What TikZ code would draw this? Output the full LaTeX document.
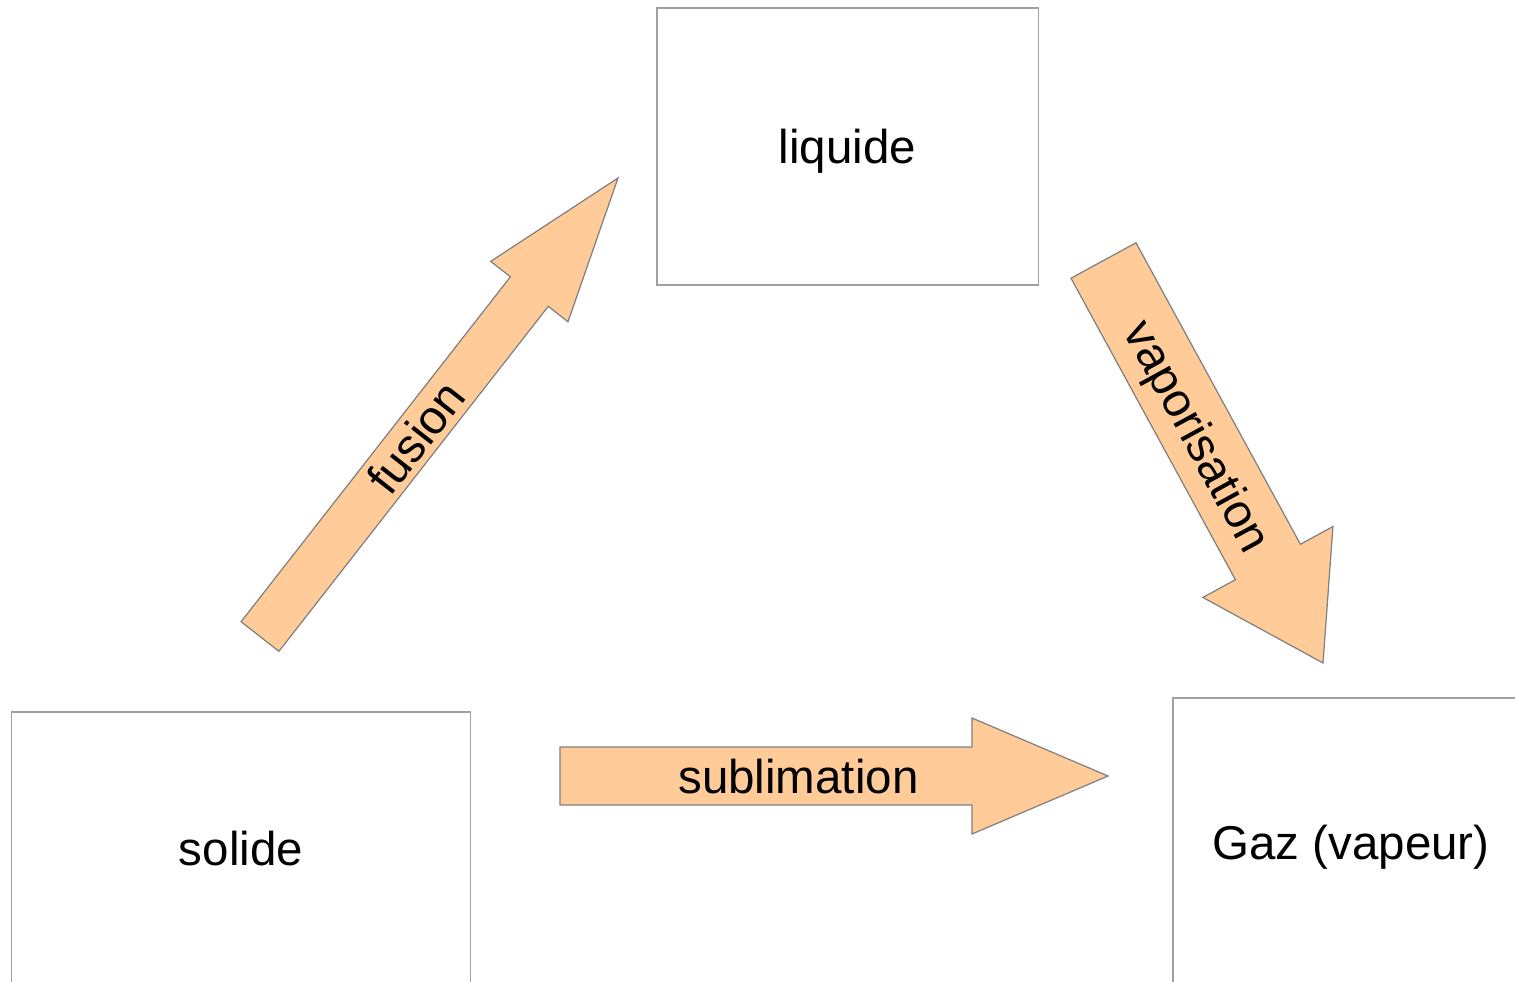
\documentclass[tikz,border=0pt]{standalone}
\usepackage{fontspec}
\setmainfont{Liberation Sans}
\usetikzlibrary{calc,positioning}
\definecolor{peach}{RGB}{255,204,153}
\definecolor{boxline}{RGB}{160,160,160}
\definecolor{arrowline}{RGB}{128,128,128}
\tikzset{
  state/.style     = {draw=boxline, line width=0.35pt, rectangle, inner sep=0pt,
                      font=\fontsize{13.5}{16}\selectfont,
                      text height=9.7pt, text depth=0pt},
  flow/.style      = {draw=arrowline, fill=peach, line width=0.35pt},
  flowlabel/.style = {sloped, pos=0.435, inner sep=0pt,
                      font=\fontsize{13.5}{16}\selectfont,
                      text height=9.7pt, text depth=0pt}
}

\begin{document}
\begin{tikzpicture}[x=0.01cm, y=-0.01cm]
\path[use as bounding box, clip] (0,0) rectangle (1515,981);

% the three states of matter
\node[state, minimum width=3.81cm, minimum height=2.77cm] (liquide) at (847.5,146.5) {liquide};
\node[state, minimum width=4.58cm, minimum height=2.72cm] (solide) at (241,848) {solide};
\node[state, minimum width=3.56cm, minimum height=2.88cm] (gaz) at (1351,842) {Gaz (vapeur)};

% tail and tip of every big arrow
\coordinate (fus0) at (260,636.5);
\coordinate (fus1) at (618,178);
\coordinate (vap0) at (1103.5,260.5);
\coordinate (vap1) at (1323,663);
\coordinate (sub0) at (560,776);
\coordinate (sub1) at (1108,776);

% the big arrows: tail/tip/half shaft/half head/head length/label
\foreach \from/\to/\shaft/\head/\len/\txt in
  {fus0/fus1/0.24cm/0.49cm/1.44cm/fusion,
   vap0/vap1/0.37cm/0.74cm/1.15cm/vaporisation,
   sub0/sub1/0.29cm/0.58cm/1.36cm/sublimation}
{
  \coordinate (\from-b) at ($(\to)!\len!(\from)$);
  \draw[flow] ($(\from)!\shaft!90:(\to)$) -- ($(\from-b)!\shaft!90:(\to)$)
    -- ($(\from-b)!\head!90:(\to)$) -- (\to) -- ($(\from-b)!\head!-90:(\to)$)
    -- ($(\from-b)!\shaft!-90:(\to)$) -- ($(\from)!\shaft!-90:(\to)$) -- cycle;
  \path (\from) -- node[flowlabel] (\txt) {\txt} (\to);
}
\end{tikzpicture}
\end{document}
